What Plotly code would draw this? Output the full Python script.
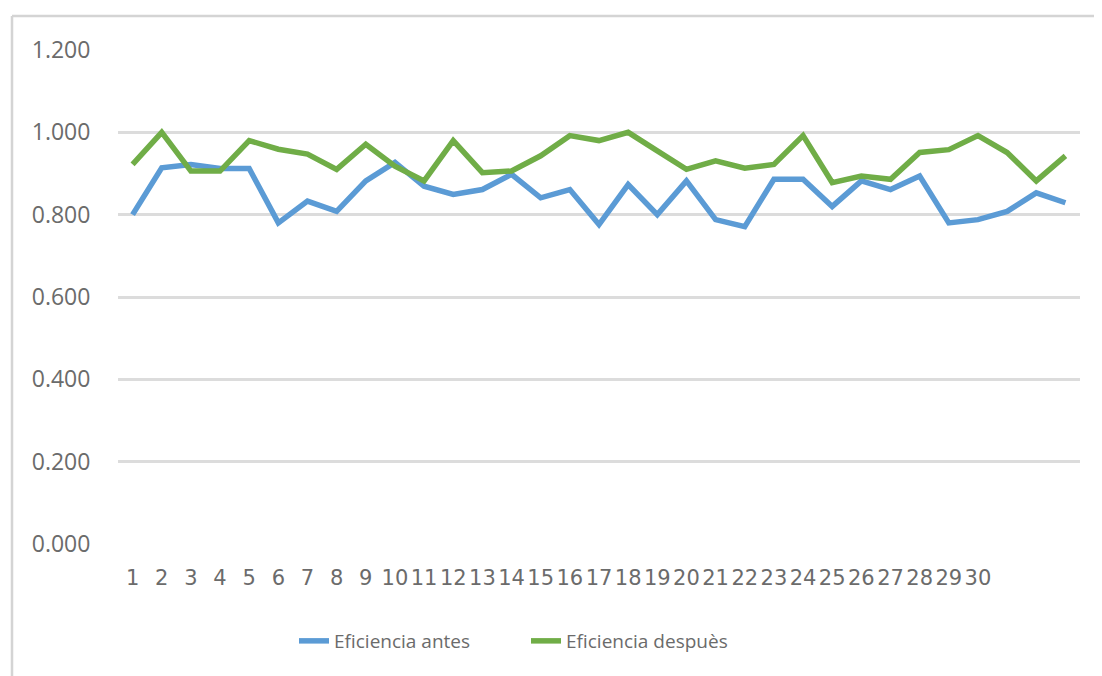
import plotly.graph_objects as go

x_labels = [str(i) for i in range(1, 31)] + ["", "", ""]
x_pos = list(range(1, 34))

eficiencia_antes = [0.800, 0.914, 0.922, 0.912, 0.912, 0.780, 0.833, 0.808, 0.882, 0.927,
                    0.869, 0.849, 0.861, 0.898, 0.841, 0.861, 0.776, 0.873, 0.800, 0.882,
                    0.788, 0.771, 0.886, 0.886, 0.820, 0.882, 0.861, 0.894, 0.780, 0.788,
                    0.808, 0.853, 0.829]
eficiencia_despues = [0.922, 1.000, 0.906, 0.906, 0.980, 0.959, 0.947, 0.910, 0.971, 0.918,
                      0.882, 0.980, 0.902, 0.906, 0.943, 0.992, 0.980, 1.000, 0.955, 0.910,
                      0.931, 0.913, 0.922, 0.992, 0.878, 0.894, 0.886, 0.951, 0.958, 0.992,
                      0.951, 0.882, 0.943]

y_ticks = [0, 0.2, 0.4, 0.6, 0.8, 1.0, 1.2]

fig = go.Figure()
fig.add_trace(go.Scatter(x=x_pos, y=eficiencia_antes, mode="lines", name="Eficiencia antes",
                         line=dict(color="#5B9BD5", width=5.5)))
fig.add_trace(go.Scatter(x=x_pos, y=eficiencia_despues, mode="lines", name="Eficiencia despuès",
                         line=dict(color="#70AD47", width=5.5)))

OFF = 8  # page body margin
W, H = 1102 - OFF, 676 - OFF
L, T = 118 - OFF, 50 - OFF
R = W - (1080 - OFF)
B = H - (544 - OFF)
pw, ph = W - L - R, H - T - B


def px_x(px):
    return (px - OFF - L) / pw


def px_y(py):
    return ((544 - OFF) - (py - OFF)) / ph


fig.update_layout(
    width=W, height=H,
    margin=dict(l=L, r=R, t=T, b=B),
    paper_bgcolor="white", plot_bgcolor="white",
    font=dict(family="Open Sans", color="#6b6b6b"),
    showlegend=True,
    legend=dict(orientation="h", x=px_x(294), xanchor="left",
                y=px_y(641), yanchor="middle",
                font=dict(size=19, family="Open Sans", color="#6b6b6b"),
                entrywidth=187, bgcolor="rgba(0,0,0,0)"),
    xaxis=dict(range=[0.5, 33.5], tickvals=x_pos, ticktext=x_labels, tickangle=0,
               showgrid=False, zeroline=False, showline=False,
               ticks="outside", ticklen=15, tickcolor="rgba(0,0,0,0)",
               tickfont=dict(family="DejaVu Sans", size=21, color="#6b6b6b")),
    yaxis=dict(range=[0, 1.2], tickvals=y_ticks, tickformat=".3f",
               showgrid=True, gridcolor="#dcdcdc", gridwidth=2.5,
               zeroline=False, showline=False,
               ticks="outside", ticklen=22, tickcolor="rgba(0,0,0,0)",
               tickfont=dict(family="Open Sans", size=23, color="#6b6b6b")),
    shapes=[
        dict(type="line", xref="paper", yref="paper",
             x0=px_x(12), x1=px_x(1110), y0=px_y(16), y1=px_y(16),
             line=dict(color="#d4d4d4", width=2.5)),
        dict(type="line", xref="paper", yref="paper",
             x0=px_x(12), x1=px_x(12), y0=px_y(16), y1=px_y(690),
             line=dict(color="#d4d4d4", width=2.5)),
    ],
)

fig.write_html("out.html")
